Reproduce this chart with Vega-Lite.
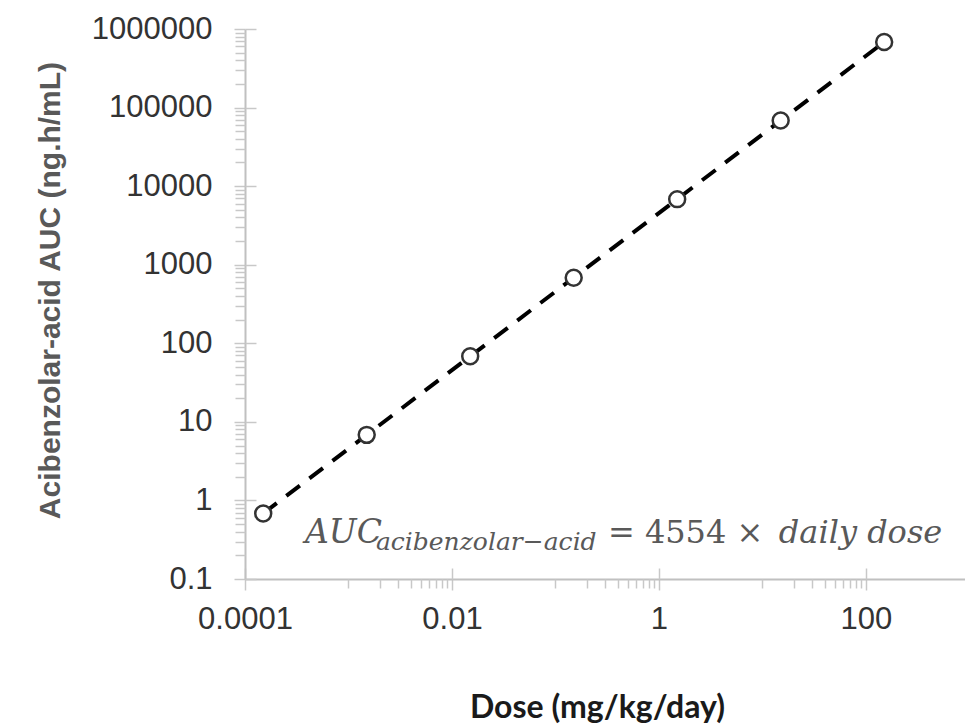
{
  "$schema": "https://vega.github.io/schema/vega-lite/v6.json",
  "width": 720,
  "height": 550,
  "autosize": {"type": "none"},
  "padding": {"left": 245, "top": 29, "right": 0, "bottom": 147},
  "background": "white",
  "config": {"view": {"stroke": null}, "font": "Liberation Sans"},
  "datasets": {
    "pts": [
      {"dose": 0.00015, "auc": 0.6831},
      {"dose": 0.0015, "auc": 6.831},
      {"dose": 0.015, "auc": 68.31},
      {"dose": 0.15, "auc": 683.1},
      {"dose": 1.5, "auc": 6831},
      {"dose": 15, "auc": 68310},
      {"dose": 150, "auc": 683100}
    ]
  },
  "layer": [
    {
      "data": {"name": "pts"},
      "mark": {"type": "line", "stroke": "black", "strokeWidth": 4, "strokeDash": [17, 12], "strokeCap": "butt"},
      "encoding": {
        "x": {
          "field": "dose", "type": "quantitative",
          "scale": {"type": "log", "domain": [0.0001, 906], "nice": false},
          "axis": {
            "orient": "bottom", "values": [0.0001, 0.01, 1, 100], "format": "~f",
            "labelFont": "Liberation Sans", "labelFontSize": 31, "labelColor": "#333333",
            "labelPadding": 14, "labelFlush": false, "labelOverlap": false,
            "tickSize": 11, "tickColor": "#c8c8c8", "tickWidth": 1.5,
            "domainColor": "#c0c0c0", "domainWidth": 2, "grid": false,
            "title": "Dose (mg/kg/day)", "titleFont": "Lato", "titleFontWeight": "bold",
            "titleFontSize": 32, "titleColor": "#1a1a1a", "titleX": 352, "titleY": 138,
            "titleBaseline": "alphabetic", "titleAlign": "center"
          }
        },
        "y": {
          "field": "auc", "type": "quantitative",
          "scale": {"type": "log", "domain": [0.1, 1000000], "nice": false},
          "axis": {
            "orient": "left", "values": [0.1, 1, 10, 100, 1000, 10000, 100000, 1000000], "format": "~f",
            "labelFont": "Liberation Sans", "labelFontSize": 31, "labelColor": "#333333",
            "labelPadding": 22, "labelFlush": false, "labelOverlap": false,
            "tickSize": 11, "tickColor": "#c8c8c8", "tickWidth": 1.5,
            "domainColor": "#c0c0c0", "domainWidth": 2, "grid": false,
            "title": "Acibenzolar-acid AUC (ng.h/mL)", "titleFont": "Liberation Sans", "titleFontWeight": "bold",
            "titleFontSize": 30, "titleColor": "#595959", "titleX": -195, "titleY": 261,
            "titleAngle": -90, "titleBaseline": "middle", "titleAlign": "center"
          }
        }
      }
    },
    {
      "data": {"name": "pts"},
      "mark": {"type": "point", "shape": "circle", "filled": false, "fill": "white", "stroke": "#333333", "strokeWidth": 2.5, "size": 254, "opacity": 1},
      "encoding": {
        "x": {
          "field": "dose", "type": "quantitative",
          "scale": {"type": "log", "domain": [0.0001, 906], "nice": false},
          "axis": {
            "orient": "bottom",
            "values": [0.001, 0.002, 0.003, 0.004, 0.005, 0.006, 0.007, 0.008, 0.009, 0.1, 0.2, 0.3, 0.4, 0.5, 0.6, 0.7, 0.8, 0.9, 10, 20, 30, 40, 50, 60, 70, 80, 90],
            "labels": false, "domain": false, "grid": false, "title": null,
            "tickSize": 9, "tickColor": "#c8c8c8", "tickWidth": 1.5
          }
        },
        "y": {
          "field": "auc", "type": "quantitative",
          "scale": {"type": "log", "domain": [0.1, 1000000], "nice": false},
          "axis": {
            "orient": "left",
            "values": [0.2, 0.3, 0.4, 0.5, 0.6, 0.7, 0.8, 0.9, 2, 3, 4, 5, 6, 7, 8, 9, 20, 30, 40, 50, 60, 70, 80, 90, 200, 300, 400, 500, 600, 700, 800, 900, 2000, 3000, 4000, 5000, 6000, 7000, 8000, 9000, 20000, 30000, 40000, 50000, 60000, 70000, 80000, 90000, 200000, 300000, 400000, 500000, 600000, 700000, 800000, 900000],
            "labels": false, "domain": false, "grid": false, "title": null,
            "tickSize": 10, "tickColor": "#c8c8c8", "tickWidth": 1.5
          }
        }
      }
    },
    {
      "data": {"values": [{"x": 0.00038, "y": 0.29, "label": "AUC"}]},
      "mark": {"type": "text", "font": "DejaVu Serif", "fontStyle": "italic", "fontSize": 33, "align": "left", "baseline": "alphabetic", "color": "#595959"},
      "encoding": {
        "x": {
          "field": "x", "type": "quantitative",
          "scale": {"type": "log", "domain": [0.0001, 906], "nice": false},
          "axis": {
            "orient": "bottom", "offset": -11, "values": [0.0001, 0.01, 1, 100],
            "labels": false, "domain": false, "grid": false, "title": null,
            "tickSize": 11, "tickColor": "#c8c8c8", "tickWidth": 1.5
          }
        },
        "y": {
          "field": "y", "type": "quantitative",
          "scale": {"type": "log", "domain": [0.1, 1000000], "nice": false},
          "axis": {
            "orient": "left", "offset": -11, "values": [0.1, 1, 10, 100, 1000, 10000, 100000, 1000000],
            "labels": false, "domain": false, "grid": false, "title": null,
            "tickSize": 11, "tickColor": "#c8c8c8", "tickWidth": 1.5
          }
        },
        "text": {"field": "label"}
      }
    },
    {
      "data": {"values": [{"x": 0.00184, "y": 0.236, "label": "acibenzolar−acid"}]},
      "mark": {"type": "text", "font": "DejaVu Serif", "fontStyle": "italic", "fontSize": 25, "align": "left", "baseline": "alphabetic", "color": "#595959"},
      "encoding": {
        "x": {"field": "x", "type": "quantitative", "scale": {"type": "log", "domain": [0.0001, 906], "nice": false}, "axis": null},
        "y": {"field": "y", "type": "quantitative", "scale": {"type": "log", "domain": [0.1, 1000000], "nice": false}, "axis": null},
        "text": {"field": "label"}
      }
    },
    {
      "data": {"values": [{"x": 0.321, "y": 0.29, "label": "= 4554 ×"}]},
      "mark": {"type": "text", "font": "DejaVu Serif", "fontSize": 32, "align": "left", "baseline": "alphabetic", "color": "#595959"},
      "encoding": {
        "x": {"field": "x", "type": "quantitative", "scale": {"type": "log", "domain": [0.0001, 906], "nice": false}, "axis": null},
        "y": {"field": "y", "type": "quantitative", "scale": {"type": "log", "domain": [0.1, 1000000], "nice": false}, "axis": null},
        "text": {"field": "label"}
      }
    },
    {
      "data": {"values": [{"x": 14.4, "y": 0.29, "label": "daily dose"}]},
      "mark": {"type": "text", "font": "DejaVu Serif", "fontStyle": "italic", "fontSize": 32, "align": "left", "baseline": "alphabetic", "color": "#595959"},
      "encoding": {
        "x": {"field": "x", "type": "quantitative", "scale": {"type": "log", "domain": [0.0001, 906], "nice": false}, "axis": null},
        "y": {"field": "y", "type": "quantitative", "scale": {"type": "log", "domain": [0.1, 1000000], "nice": false}, "axis": null},
        "text": {"field": "label"}
      }
    }
  ],
  "resolve": {"axis": {"x": "independent", "y": "independent"}}
}
